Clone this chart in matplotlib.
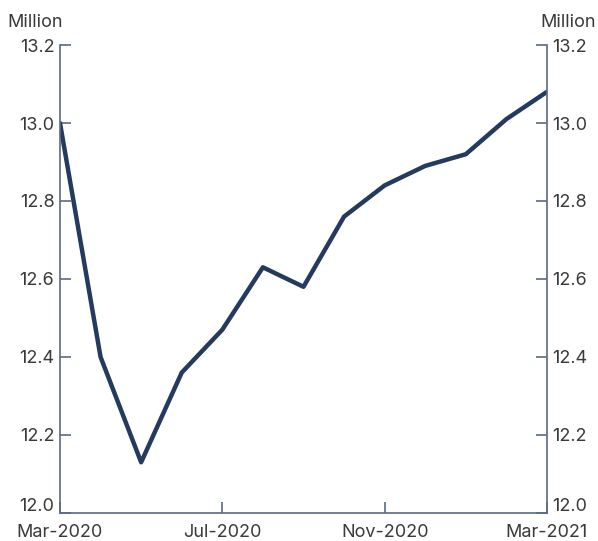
import numpy as np
import matplotlib
matplotlib.use("Agg")
import matplotlib.pyplot as plt
import matplotlib.transforms as mtransforms

plt.rcParams['font.family'] = ['Inter', 'DejaVu Sans']

months = ["Mar-2020", "Apr-2020", "May-2020", "Jun-2020", "Jul-2020", "Aug-2020",
          "Sep-2020", "Oct-2020", "Nov-2020", "Dec-2020", "Jan-2021", "Feb-2021", "Mar-2021"]
employed = [13.00, 12.40, 12.13, 12.36, 12.47, 12.63, 12.58, 12.76, 12.84, 12.89, 12.92, 13.01, 13.08]
xtick_labels = ["Mar-2020", "Jul-2020", "Nov-2020", "Mar-2021"]
yticks = [12.0, 12.2, 12.4, 12.6, 12.8, 13.0, 13.2]

axis_col = "#5b6b82"
line_col = "#243a5e"
text_col = "#3a3a3a"

fig = plt.figure(figsize=(5.98, 5.41), dpi=100)
ax = fig.add_axes([0.1003, 0.0518, 0.8144, 0.865])

x = np.arange(len(months))
ax.plot(x, employed, color=line_col, lw=3.2, solid_capstyle='round', solid_joinstyle='round')

ax.set_xlim(0, len(months) - 1)
ax.set_ylim(12.0, 13.2)
ax.set_yticks(yticks)
ax.set_yticklabels([f"{v:.1f}" for v in yticks])
ax.set_xticks([months.index(m) for m in xtick_labels])
ax.set_xticklabels(xtick_labels)

ax.spines['top'].set_visible(False)
for s in ['left', 'right', 'bottom']:
    ax.spines[s].set_color(axis_col)
    ax.spines[s].set_linewidth(1.2)

ax.tick_params(axis='both', direction='in', length=8, width=1.2, color=axis_col,
               labelsize=13, labelcolor=text_col)
ax.tick_params(axis='y', right=True, labelright=True, pad=4)
ax.tick_params(axis='x', pad=8)

# lift the 12.0 labels so they clear the date labels
lift = mtransforms.ScaledTranslation(0, 6 / 72, fig.dpi_scale_trans)
first = ax.yaxis.get_major_ticks()[0]
first.label1.set_transform(first.label1.get_transform() + lift)
first.label2.set_transform(first.label2.get_transform() + lift)

fig.text(0.012, 0.975, "Million", ha='left', va='top', fontsize=13, color=text_col)
fig.text(0.997, 0.975, "Million", ha='right', va='top', fontsize=13, color=text_col)

fig.savefig("out.png", dpi=100)
